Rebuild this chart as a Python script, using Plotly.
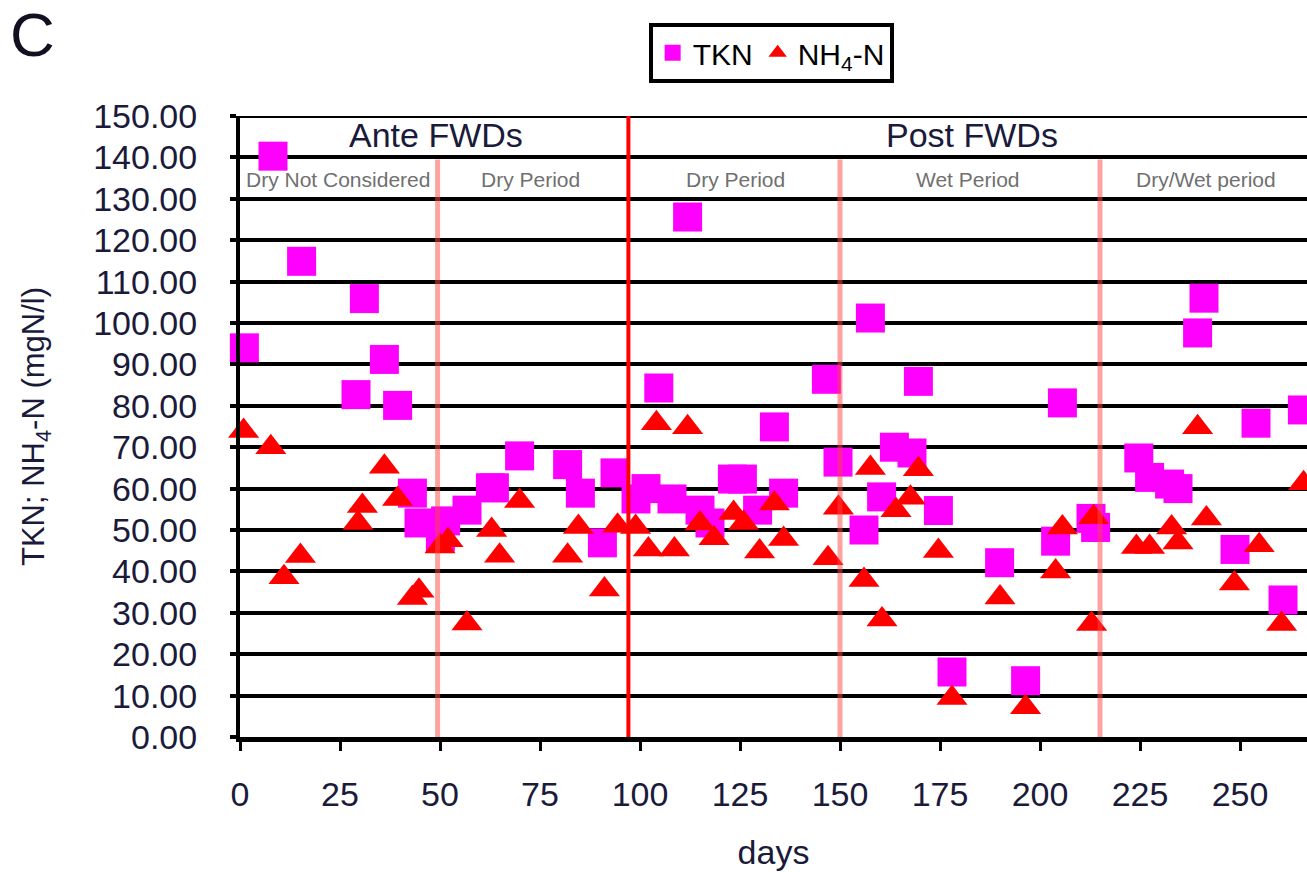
import plotly.graph_objects as go

# ---- data ----
tkn_days = [1.1, 8.25, 15.4, 29.0, 31.1, 36.1, 39.4, 43.1, 44.75, 50.1,
            51.4, 56.75, 62.6, 63.6, 69.9, 81.9, 85.1, 90.6, 93.75, 99.0,
            101.5, 104.7, 108.0, 111.9, 115.0, 117.5, 123.1, 125.6, 129.4, 133.6,
            135.9, 146.6, 149.5, 156.0, 157.6, 160.4, 163.6, 168.0, 169.6, 174.6,
            178.0, 189.9, 196.4, 203.9, 205.6, 212.75, 213.9, 224.7, 227.4, 232.4,
            234.5, 239.4, 241.0, 248.75, 254.0, 260.75, 265.6]
tkn_vals = [94.0, 140.3, 114.9, 82.7, 105.9, 91.2, 80.1, 58.9, 51.7, 48.3,
            52.2, 54.8, 60.2, 60.2, 67.9, 65.8, 58.9, 46.9, 63.8, 57.5,
            60.0, 84.3, 57.5, 125.6, 54.8, 51.7, 62.3, 62.3, 54.8, 74.9,
            58.9, 86.4, 66.4, 50.0, 101.2, 58.0, 70.0, 68.6, 85.9, 54.7,
            15.7, 42.1, 13.6, 47.3, 80.7, 52.8, 50.6, 67.4, 62.7, 61.1,
            60.0, 97.6, 106.0, 45.3, 75.8, 33.1, 79.0]

nh4_days = [0.9, 7.7, 11.0, 15.1, 29.5, 30.6, 36.1, 39.4, 43.1, 44.75,
            50.0, 52.0, 56.75, 62.9, 64.9, 69.9, 81.9, 84.6, 91.1, 94.4,
            98.9, 102.1, 104.1, 108.6, 111.9, 115.0, 118.5, 123.4, 125.9, 129.9,
            133.6, 135.9, 147.0, 149.6, 156.0, 157.6, 160.5, 164.0, 167.6, 169.6,
            174.6, 178.0, 190.0, 196.4, 203.9, 205.6, 212.9, 213.4, 224.1, 227.4,
            232.9, 234.5, 239.4, 241.6, 248.6, 254.8, 260.4, 265.9]
nh4_vals = [73.9, 70.0, 38.6, 43.7, 51.7, 55.8, 65.3, 57.5, 33.6, 35.3,
            46.0, 47.5, 27.4, 50.0, 43.8, 57.0, 43.8, 50.7, 35.6, 51.0,
            50.7, 45.3, 75.8, 45.3, 74.8, 51.6, 48.0, 54.1, 51.7, 44.8,
            56.4, 47.8, 43.2, 55.4, 37.9, 65.0, 28.4, 54.8, 57.8, 64.7,
            44.9, 9.4, 33.7, 7.2, 40.0, 50.6, 27.3, 53.1, 45.9, 45.9,
            50.6, 47.0, 74.8, 52.8, 37.1, 46.3, 27.3, 61.3]

x_ticks = [0, 25, 50, 75, 100, 125, 150, 175, 200, 225, 250]
y_ticks = [0, 10, 20, 30, 40, 50, 60, 70, 80, 90, 100, 110, 120, 130, 140, 150]

fwd_day = 97.1                       # solid red divider (Ante / Post)
period_days = [49.4, 150.0, 215.0]   # pale period dividers

main_labels = [("Ante FWDs", 48.9), ("Post FWDs", 182.9)]
period_labels = [("Dry Not Considered", 24.6), ("Dry Period", 72.6),
                 ("Dry Period", 123.9), ("Wet Period", 182.1),
                 ("Dry/Wet period", 241.6)]

FONT = "Liberation Sans, Arial, sans-serif"
TXT = "#1a1a3a"

fig = go.Figure()
fig.add_trace(go.Scatter(
    x=tkn_days, y=tkn_vals, mode="markers", name="TKN",
    marker=dict(symbol="square", size=29, color="#ff00ff", line=dict(width=0)),
    cliponaxis=False))
fig.add_trace(go.Scatter(
    x=nh4_days, y=nh4_vals, mode="markers", name="NH<sub>4</sub>-N",
    marker=dict(symbol="triangle-up", size=27, color="#ff0000", line=dict(width=0)),
    cliponaxis=False))

# dividers
fig.add_shape(type="line", xref="x", yref="y", x0=fwd_day, x1=fwd_day, y0=0, y1=151.2,
              line=dict(color="#ff0000", width=4), layer="above")
for d in period_days:
    fig.add_shape(type="line", xref="x", yref="y", x0=d, x1=d, y0=0, y1=139.5,
                  line=dict(color="rgba(255,70,70,0.5)", width=5), layer="above")
# top frame line at 150
fig.add_shape(type="line", xref="paper", yref="y", x0=-0.006, x1=1, y0=150, y1=150,
              line=dict(color="black", width=4), layer="below")

for txt, d in main_labels:
    fig.add_annotation(x=d, y=145.3, xref="x", yref="y", text=txt, showarrow=False,
                       font=dict(family=FONT, size=34, color=TXT))
for txt, d in period_labels:
    fig.add_annotation(x=d, y=134.6, xref="x", yref="y", text=txt, showarrow=False,
                       font=dict(family=FONT, size=21, color="#707070"))

fig.add_annotation(x=0, y=1, xref="paper", yref="paper", xanchor="left", yanchor="top",
                   text="C", showarrow=False,
                   font=dict(family=FONT, size=62, color="#111122"),
                   xshift=-240 + 8, yshift=116 + 2)

fig.update_layout(
    width=1307, height=872,
    margin=dict(l=240, r=0, t=116, b=135),
    paper_bgcolor="white", plot_bgcolor="white",
    showlegend=True,
    legend=dict(orientation="h", x=0.383, y=1.15, xanchor="left", yanchor="top",
                bordercolor="black", borderwidth=4, bgcolor="white",
                font=dict(family=FONT, size=30, color="black"),
                itemwidth=30, tracegroupgap=0),
    font=dict(family=FONT, color=TXT),
)

fig.update_xaxes(
    range=[0, 266.75], tickvals=x_ticks, ticktext=[str(v) for v in x_ticks],
    showgrid=False, zeroline=False,
    showline=True, linecolor="black", linewidth=5,
    ticks="outside", ticklen=9, tickwidth=3, tickcolor="black",
    tickfont=dict(family=FONT, size=34, color=TXT), ticklabelstandoff=14,
    title=dict(text="days", font=dict(family=FONT, size=34, color=TXT), standoff=30),
)
fig.update_yaxes(
    range=[0, 150], tickvals=y_ticks, ticktext=[f"{v:.2f}" for v in y_ticks],
    showgrid=True, gridcolor="black", gridwidth=4, zeroline=False,
    showline=True, linecolor="black", linewidth=4,
    ticks="outside", ticklen=6, tickwidth=4, tickcolor="black",
    tickfont=dict(family=FONT, size=34, color=TXT), ticklabelstandoff=26,
    title=dict(text="TKN; NH<sub>4</sub>-N (mgN/l)", font=dict(family=FONT, size=31, color=TXT),
               standoff=40),
)

fig.write_html("out.html")
